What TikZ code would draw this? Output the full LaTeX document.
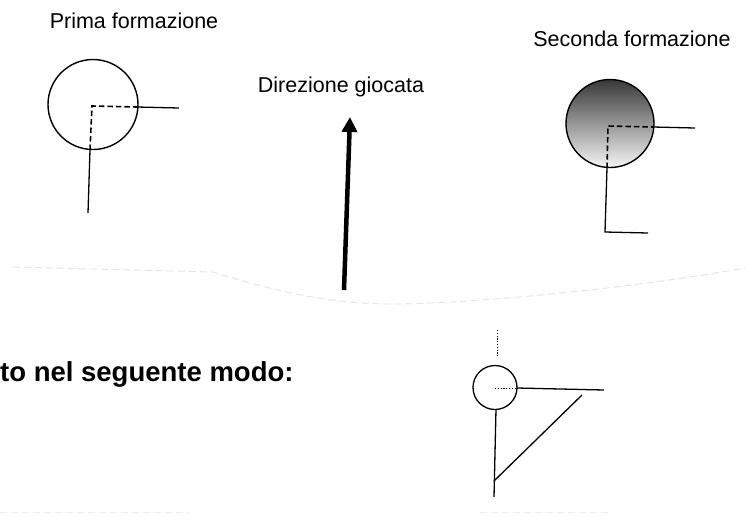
\documentclass[tikz,border=0pt]{standalone}
\usepackage{fontspec}
\setmainfont{Liberation Sans}
\usetikzlibrary{arrows.meta}
\begin{document}
\begin{tikzpicture}[x=1pt,y=-1pt,
  lbl/.style={font=\fontsize{21.5}{25}\selectfont, inner sep=0pt, anchor=base},
  boldlbl/.style={font=\fontsize{27.5}{32}\selectfont\bfseries, inner sep=0pt, anchor=base west},
  ring/.style={circle, draw=black, line width=1.4pt, inner sep=0pt},
  sline/.style={line width=1.3pt},
  dline/.style={line width=1.6pt, dash pattern=on 5.5pt off 3pt},
  dotline/.style={line width=1pt, dash pattern=on 1.2pt off 1.6pt},
  faint/.style={draw=black!11, line width=0.9pt, dash pattern=on 7pt off 4pt},
  bigarrow/.style={line width=4.5pt, -{Triangle[width=15pt,length=15pt]}}
]
\useasboundingbox (0,0) rectangle (745,515);
\fill[white] (0,0) rectangle (745,515);

% titles
\node[lbl] (t1) at (134,28) {Prima formazione};
\node[lbl] (t2) at (632,46) {Seconda formazione};
\node[lbl] (t3) at (341,92) {Direzione giocata};
\node[boldlbl] (t4) at (0,381) {to nel seguente modo:};

% first formation
\node[ring, minimum size=90pt] (c1) at (93,104.5) {};
\coordinate (k1) at (92,106);
\coordinate (h1a) at (137,107);
\coordinate (h1b) at (179,108);
\coordinate (v1a) at (90,150);
\coordinate (v1b) at (88,213);
\draw[dline] (v1a) -- (k1) -- (h1a);
\draw[sline] (h1a) -- (h1b);
\draw[sline] (v1a) -- (v1b);

% second formation
\node[ring, minimum size=88pt, shading=axis, top color=black!78, middle color=black!30, bottom color=black!4] (c2) at (610,123.5) {};
\coordinate (k2) at (608,126);
\coordinate (h2a) at (653,127);
\coordinate (h2b) at (695,128);
\coordinate (v2a) at (607,168);
\coordinate (v2b) at (605,232);
\coordinate (v2c) at (648,233);
\draw[dline] (v2a) -- (k2) -- (h2a);
\draw[sline] (h2a) -- (h2b);
\draw[sline] (v2a) -- (v2b) -- (v2c);

% direction arrow
\coordinate (a0) at (344,290);
\coordinate (a1) at (350,117);
\draw[bigarrow] (a0) -- (a1);

% faint torn edge
\coordinate (e0) at (13,267);
\coordinate (e1) at (213,272);
\coordinate (e2) at (400,304);
\coordinate (e3) at (745,268);
\draw[faint] (e0) -- (e1) .. controls (270,290) and (330,305) .. (e2)
  .. controls (500,302) and (650,285) .. (e3);
\draw[faint, draw=black!7] (0,512) -- (190,512);
\draw[faint, draw=black!7] (480,512) -- (610,512);

% third figure
\node[ring, minimum size=44pt, line width=1.3pt] (c3) at (495,387.5) {};
\coordinate (d0) at (497,330);
\coordinate (d1) at (497,356);
\coordinate (k3) at (495,388);
\coordinate (h3a) at (517,388);
\coordinate (h3b) at (604,390);
\coordinate (v3a) at (496,409);
\coordinate (v3b) at (494,497);
\coordinate (g0) at (582,395);
\coordinate (g1) at (494,481);
\draw[dotline] (d0) -- (d1);
\draw[dotline] (k3) -- (h3a);
\draw[sline] (h3a) -- (h3b);
\draw[sline] (v3a) -- (v3b);
\draw[sline] (g0) -- (g1);
\end{tikzpicture}
\end{document}
